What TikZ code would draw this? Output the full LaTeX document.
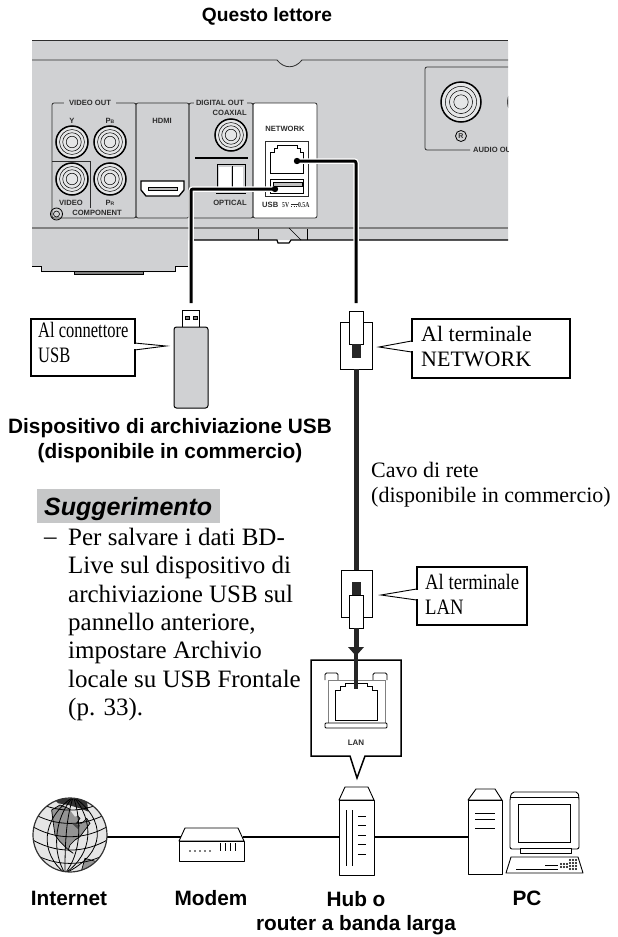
\documentclass[tikz,border=0pt]{standalone}
\usepackage{fontspec}
\setmainfont{Liberation Serif}
\setsansfont{Liberation Sans}
\newfontfamily\narrowfont[FakeStretch=0.75]{Liberation Serif}
\newfontfamily\midfont[FakeStretch=0.85]{Liberation Serif}
\definecolor{panelgray}{RGB}{208,209,211}
\definecolor{bandgray}{RGB}{198,199,200}
\definecolor{inkgray}{RGB}{45,45,45}
\tikzset{
  devlabel/.style={font=\sffamily\bfseries\fontsize{7.6}{8}\selectfont, text=inkgray, inner sep=0pt},
  devbox/.style={draw=inkgray, line width=0.8pt, rounded corners=2pt},
  caption/.style={font=\sffamily\bfseries\fontsize{20.8}{24.5}\selectfont, align=center, inner sep=0pt},
  calloutbox/.style={draw, line width=1.5pt, fill=white, align=left, inner sep=0pt, anchor=north west},
  plaintext/.style={font=\fontsize{22}{25}\selectfont, align=left, inner sep=0pt, anchor=north west},
  cable/.style={line width=3pt, line join=round, rounded corners=2pt},
  halo/.style={line width=5.5pt, white, rounded corners=2pt},
  unit/.style={draw, line width=0.9pt, fill=white, line join=round},
  wire/.style={line width=1.8pt},
}
% a round socket on the back panel
\newcommand{\jacksocket}[3]{%
  \fill[panelgray!55] (#1,#2) circle (#3 pt);
  \draw[line width=1.5pt] (#1,#2) circle (#3 pt);
  \foreach \f in {0.78, 0.58, 0.36} {%
    \draw[line width=0.5pt] (#1,#2) circle (\f*#3 pt);
  }
}
\begin{document}
\begin{tikzpicture}[x=1pt,y=-1pt]
\useasboundingbox (0,0) rectangle (618,937);

  \node[font=\sffamily\bfseries\fontsize{19.2}{22}\selectfont, inner sep=0pt] (title) at (267,16) {Questo lettore};

  % back panel of the player
  \begin{scope}
    \clip (32,30) rectangle (508,280);
    \fill[panelgray] (32,41) -- (508,41) -- (508,240) -- (193,240) -- (188,240) -- (188,266) -- (175,266) -- (175,272) -- (143,272) -- (143,274) -- (74,274) -- (74,272) -- (41,272) -- (41,266) -- (32,266) -- cycle;
    \draw[line width=1.8pt, inkgray] (32,40.5) -- (508,40.5);
    \draw[line width=0.8pt, inkgray] (32,60) -- (277,60) .. controls (284,69) and (295,69) .. (302,60) -- (508,60);
    \draw[line width=2pt, gray] (32,228) -- (508,228);
    \draw[line width=1.2pt] (193,243) -- (193,240) -- (277,240) -- (278,243) -- (289,243) -- (291,240) -- (508,240);
    \draw[line width=0.7pt] (258,229) -- (258,240);
    \draw[line width=0.7pt] (307,229) -- (307,240);
    \draw[line width=0.7pt] (289,228) -- (301,240);
    \draw[line width=1pt] (32,266) -- (41,266) -- (41,271.5) -- (175,271.5) -- (175,266) -- (188,266);
    \draw[line width=0.7pt, fill=gray] (74,271.5) -- (74,274) -- (143,274) -- (143,271.5) -- cycle;

    % white network bay and the boxes next to it
    \draw[devbox, fill=white] (253,103) rectangle (317,218);
    \draw[devbox] (52,103) rectangle (136,218);
    \draw[devbox] (136,103) rectangle (189,218);
    \draw[devbox] (189,103) rectangle (253,218);
    \draw[line width=0.8pt, inkgray] (52,161) -- (90,161) -- (90,208);

    \fill[panelgray] (64,98) rectangle (116,108);
    \fill[panelgray] (194,98) rectangle (247,108);
    \node[devlabel] (videoout) at (90,103) {VIDEO OUT};
    \node[devlabel] (digitalout) at (220,103) {DIGITAL OUT};
    \node[devlabel, anchor=east] (coaxial) at (247,113) {COAXIAL};
    \node[devlabel] (network) at (285,129) {NETWORK};
    \node[devlabel] (hdmi) at (162,121) {HDMI};
    \node[devlabel] (portY) at (72,121) {Y};
    \node[devlabel] (portPb) at (110,121) {P{\fontsize{5}{5}\selectfont B}};
    \node[devlabel] (portVideo) at (71,203) {VIDEO};
    \node[devlabel] (portPr) at (110,203) {P{\fontsize{5}{5}\selectfont R}};
    \node[devlabel] (component) at (97,213) {COMPONENT};
    \node[devlabel] (optical) at (230,203) {OPTICAL};
    \node[devlabel, anchor=west] (usblabel) at (262,205) {USB};
    \node[devlabel, anchor=west, font=\narrowfont\bfseries\fontsize{7.6}{8}\selectfont] (usbvolt) at (282,205) {5V};
    \node[devlabel, anchor=west, font=\narrowfont\bfseries\fontsize{7.6}{8}\selectfont] (usbamp) at (298,205) {0.5A};
    \draw[line width=0.6pt, inkgray] (291,204) -- (297.5,204);
    \draw[line width=0.6pt, inkgray, dash pattern=on 1.4pt off 1.1pt] (291,206) -- (297.5,206);

    \jacksocket{72}{142}{16}
    \jacksocket{110}{142}{16}
    \jacksocket{72}{179}{16}
    \jacksocket{110}{179}{16}
    \jacksocket{231}{135}{16}
    \jacksocket{461}{102}{20}
    \jacksocket{528}{102}{20}

    \draw[line width=0.8pt] (56.5,214) circle (6pt);
    \draw[line width=0.6pt] (56.5,214) circle (3pt);

    % hdmi
    \draw[line width=1.3pt, fill=white] (141,181) -- (184,181) -- (184,190) -- (179,196) -- (146,196) -- (141,190) -- cycle;
    \draw[line width=0.6pt, fill=gray!50] (148,187) rectangle (177,190);

    % optical
    \draw[line width=1.6pt] (195,158) -- (248,158);
    \draw[line width=0.9pt] (217,187) -- (217,164) -- (245,164) -- (245,187);
    \fill[white] (219,167) rectangle (231,187);
    \fill[white] (233,167) rectangle (243,187);
    \draw[line width=0.7pt] (232,166) -- (232,187);
    \draw[line width=0.7pt] (216,193) -- (246,193);

    % network and usb sockets
    \draw[line width=0.8pt, inkgray] (265,141) rectangle (308,196);
    \draw[line width=0.8pt] (270,173) -- (270,152) -- (274,152) -- (274,148) -- (277,148) -- (277,145) -- (297,145) -- (297,148) -- (300,148) -- (300,152) -- (303,152) -- (303,173) -- cycle;
    \draw[line width=0.8pt] (270,179) rectangle (303,193);
    \draw[line width=0.6pt, fill=gray!50] (273,182) rectangle (302,186);

    % audio out
    \draw[devbox] (508,67) -- (425,67) -- (425,150) -- (470,150);
    \node[devlabel, anchor=west] (audioout) at (473,150) {AUDIO OUT};
    \draw[line width=0.8pt] (461,136) circle (5.5pt);
    \node[devlabel, font=\sffamily\bfseries\fontsize{7}{8}\selectfont] (audioR) at (461,136) {R};
  \end{scope}

  % the two cables out of the panel
  \coordinate (usbdot) at (275,189);
  \coordinate (usbend) at (191,303);
  \coordinate (netdot) at (297,161);
  \coordinate (netend) at (356,303);
  \draw[halo] (usbdot) -| (191,272);
  \draw[halo] (netdot) -| (356,244);
  \draw[cable] (usbdot) -| (usbend);
  \draw[cable] (netdot) -| (netend);
  \fill (usbdot) circle (3.2pt);
  \fill (netdot) circle (3.2pt);

  % usb stick
  \draw[line width=0.9pt, fill=white] (182,310) rectangle (199,327);
  \draw[line width=0.5pt, fill=gray] (185,316) rectangle (189,319);
  \draw[line width=0.5pt, fill=gray] (193,316) rectangle (197,319);
  \draw[line width=1pt, fill=panelgray, rounded corners=2.5pt] (174,327) rectangle (208,408);

  % callouts
  \node[calloutbox, minimum width=104pt, minimum height=57pt] (boxusb) at (30,318) {};
  \node[plaintext, font=\narrowfont\fontsize{22}{25}\selectfont] (textusb) at (38,322) {Al connettore\\USB};
  \fill[white] (133,344) rectangle (136,349);
  \draw[line width=0.9pt] (134.5,343) -- (166,346) -- (134.5,350);

  \node[calloutbox, minimum width=158pt, minimum height=59pt] (boxnet) at (411,318) {};
  \node[plaintext] (textnet) at (421,326) {Al terminale\\NETWORK};
  \fill[white] (410,342) rectangle (413,351);
  \draw[line width=0.9pt] (411.5,341) -- (379,347) -- (411.5,352);

  \node[calloutbox, minimum width=110pt, minimum height=58pt] (boxlan) at (416,566) {};
  \node[plaintext, font=\midfont\fontsize{22}{25}\selectfont] (textlan) at (425,574) {Al terminale\\LAN};
  \fill[white] (415,590) rectangle (418,599);
  \draw[line width=0.9pt] (416.5,589) -- (381,595) -- (416.5,600);

  % network plug, top
  \draw[line width=0.9pt, fill=white] (340,322) rectangle (372,369);
  \draw[line width=0.9pt, fill=white] (349,311) rectangle (363,344);
  \fill[black!85] (352,344) rectangle (361,358);

  % network plug, bottom
  \coordinate (plugtop) at (356,369);
  \coordinate (plugbottom) at (356,570);
  \draw[line width=5pt, black!85] (plugtop) -- (plugbottom);
  \draw[line width=0.9pt, fill=white] (341,570) rectangle (372,617);
  \fill[black!85] (352,582) rectangle (361,595);
  \draw[line width=0.9pt, fill=white] (349,595) rectangle (363,628);

  % lan socket with the callout under it
  \draw[line width=1.5pt, fill=white, line join=miter] (311,660) -- (401,660) -- (401,756) -- (365,756) -- (357,778) -- (350,756) -- (311,756) -- cycle;
  \draw[line width=0.8pt, rounded corners=1.5pt] (325,680) -- (325,673) -- (338,673) -- (338,680);
  \draw[line width=0.8pt, rounded corners=1.5pt] (373,680) -- (373,673) -- (387,673) -- (387,680);
  \draw[line width=1pt, gray] (328,723) -- (328,680) -- (385,680) -- (385,723);
  \draw[line width=0.8pt, rounded corners=1pt] (325,723) -- (325,728) -- (387,728) -- (387,723) -- cycle;
  \draw[line width=1pt] (335,720) -- (335,690) -- (340,690) -- (340,686) -- (345,686) -- (345,683) -- (367,683) -- (367,686) -- (372,686) -- (372,690) -- (377,690) -- (377,720) -- cycle;
  \node[devlabel, font=\sffamily\bfseries\fontsize{8}{9}\selectfont] (lanlabel) at (356,743) {LAN};

  \coordinate (lanend) at (356,689);
  \draw[line width=5pt, black!85] (356,628) -- (356,648);
  \fill[black!85] (348,647) -- (364,647) -- (356,656) -- cycle;
  \draw[line width=4.5pt, black!85] (356,650) -- (lanend);

  % labels
  \node[caption] (usbcap) at (170,440.5) {Dispositivo di archiviazione USB\\(disponibile in commercio)};
  \node[plaintext] (cavo) at (371,462) {Cavo di rete\\(disponibile in commercio)};

  \node[fill=bandgray, minimum width=183pt, minimum height=34pt, inner sep=0pt] (tipband) at (128.5,506) {};
  \node[font=\sffamily\bfseries\itshape\fontsize{25}{28}\selectfont, inner sep=0pt, anchor=base west] (tiptitle) at (44,515) {Suggerimento};
  \node[font=\fontsize{25}{28.3}\selectfont, inner sep=0pt, anchor=base west] (tipdash) at (44,544) {--};
  \node[font=\fontsize{25}{28.3}\selectfont, inner sep=0pt, align=left, anchor=north west] (tiptext) at (68,528) {Per salvare i dati BD-\\Live sul dispositivo di\\archiviazione USB sul\\pannello anteriore,\\impostare Archivio\\locale su USB Frontale\\(p. 33).};

  % bottom row
  \coordinate (globeE) at (107,837);
  \coordinate (modemW) at (181,837);
  \coordinate (modemE) at (243,837);
  \coordinate (hubW) at (339,837);
  \coordinate (hubE) at (374,837);
  \coordinate (towerW) at (468,837);
  \draw[wire] (globeE) -- (modemW);
  \draw[wire] (modemE) -- (hubW);
  \draw[wire] (hubE) -- (towerW);

  % globe, points read off a 3x crop
  \begin{scope}[shift={(25,790)}, x=0.3333pt, y=-0.3333pt]
    \fill[black!10] (135,135) circle (37pt);
    \begin{scope}
      \clip (135,135) circle (37pt);
      \draw[line width=0.7pt, fill=black!42] (80,60) -- (105,45) -- (130,55) -- (150,70) -- (165,85) -- (155,100) -- (170,100) -- (185,85) -- (195,100) -- (180,120) -- (165,140) -- (150,150) -- (135,165) -- (130,180) -- (145,190) -- (125,175) -- (105,155) -- (90,135) -- (85,100) -- cycle;
      \draw[line width=0.7pt, fill=black!42] (180,205) -- (215,215) -- (235,225) -- (195,265) -- (170,240) -- cycle;
      \fill[black!80] (85,25) -- (185,25) -- (190,65) -- (165,55) -- (130,45) -- (100,40) -- cycle;
      \fill[black!10] (135,60) -- (155,55) -- (170,70) -- (150,80) -- cycle;
      \fill[black!70] (140,100) -- (165,105) -- (160,118) -- cycle;
      \foreach \r in {25, 62, 100} {%
        \draw[line width=0.8pt] (145,20) .. controls (145-\r,90) and (145-\r,190) .. (120,250);
        \draw[line width=0.8pt] (145,20) .. controls (145+\r,90) and (145+\r,190) .. (120,250);
      }
      \foreach \y in {50, 90, 130, 170, 210, 245} {%
        \draw[line width=0.8pt] (15,\y-25) .. controls (90,\y+22) and (180,\y+22) .. (255,\y-25);
      }
    \end{scope}
    \draw[line width=1.2pt, black!80] (135,135) circle (37pt);
  \end{scope}

  % modem
  \draw[unit] (179,841) -- (185,828) -- (238,828) -- (244,841) -- cycle;
  \draw[unit] (179,841) rectangle (244,861);
  \foreach \x in {190, 195, 200, 205, 210} {%
    \fill (\x,851) circle (0.9pt);
  }
  \foreach \x in {220, 225, 230, 235} {%
    \draw[line width=0.7pt] (\x,843) -- (\x,851);
  }

  % hub
  \draw[unit] (339,800) -- (345,787) -- (368,787) -- (374,800) -- cycle;
  \draw[unit] (339,800) rectangle (374,875);
  \foreach \x in {346, 352} {%
    \draw[line width=0.7pt] (\x,810) -- (\x,866);
  }
  \foreach \y in {816, 825, 835, 844, 854} {%
    \draw[line width=0.7pt] (358,\y) -- (366,\y);
  }

  % pc tower
  \draw[unit] (468,800) -- (476,789) -- (495,789) -- (502,800) -- cycle;
  \draw[unit] (468,800) rectangle (502,874);
  \foreach \y in {813, 819, 828} {%
    \draw[line width=0.7pt] (475,\y) -- (495,\y);
  }

  % pc monitor and keyboard
  \draw[unit, rounded corners=2pt] (510,849) -- (510,798) -- (512,792) -- (578,792) -- (579,798) -- (579,849) -- cycle;
  \draw[line width=0.6pt] (510,797) -- (579,797);
  \draw[line width=0.8pt] (518,804) rectangle (570,842);
  \draw[unit] (520,848) rectangle (571,853);
  \draw[unit] (506,873) -- (511,857) -- (578,857) -- (583,873) -- cycle;
  \draw[line width=0.6pt] (516,869) -- (558,869);
  \draw[line width=0.6pt] (545,865) -- (558,865);
  \foreach \x in {561, 564, 567} {%
    \foreach \y in {864, 867} {%
      \fill (\x,\y) circle (1.1pt);
    }
  }
  \foreach \x in {570, 573, 576} {%
    \foreach \y in {860, 863, 866, 869} {%
      \fill (\x,\y) circle (1.1pt);
    }
  }

  \node[caption, anchor=base] (internet) at (69,905.5) {Internet};
  \node[caption, anchor=base] (modem) at (211,905.5) {Modem};
  \node[caption] (hub) at (356,913) {Hub o\\router a banda larga};
  \node[caption, anchor=base] (pc) at (527,905.5) {PC};
\end{tikzpicture}
\end{document}
